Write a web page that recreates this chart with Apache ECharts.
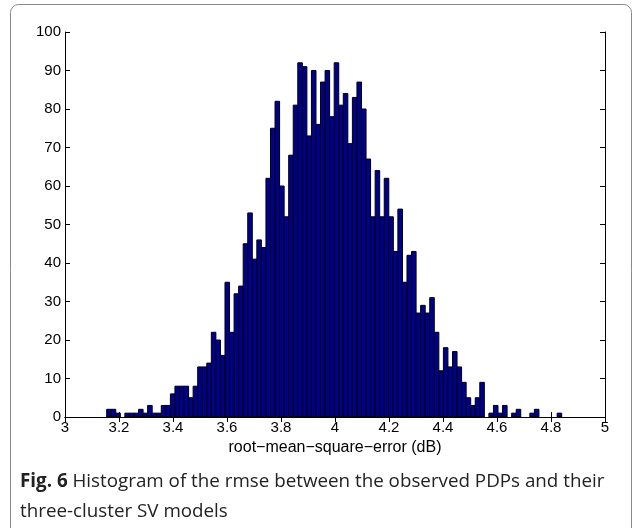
<!DOCTYPE html>
<html>
<head>
<meta charset="utf-8">
<script src="https://cdn.jsdelivr.net/npm/echarts@6/dist/echarts.min.js"></script>
<style>html,body{margin:0;padding:0;background:#fff;}#chart{width:633px;height:528px;}</style>
</head>
<body>
<div id="chart"></div>
<script>
// Histogram: 100 equal bins between the data minimum and maximum
var binMin = 3.1544;
var binMax = 4.8396;
var counts = [
  2, 2, 1, 0, 1, 1, 1, 2, 1, 3,
  1, 1, 3, 3, 6, 8, 8, 8, 5, 8,
  13, 13, 14, 22, 20, 16, 35, 22, 32, 34,
  45, 53, 41, 46, 44, 62, 75, 82, 60, 52,
  68, 81, 92, 91, 73, 90, 76, 87, 90, 78,
  92, 81, 84, 71, 83, 87, 80, 67, 52, 64,
  52, 62, 52, 43, 54, 35, 42, 43, 27, 29,
  27, 31, 22, 12, 18, 13, 17, 13, 9, 5,
  3, 5, 9, 0, 1, 3, 1, 3, 0, 1,
  2, 0, 0, 1, 2, 0, 0, 0, 0, 1
];
var xTickLabels = ['3','3.2','3.4','3.6','3.8','4','4.2','4.4','4.6','4.8','5'];
var yTickLabels = ['0','10','20','30','40','50','60','70','80','90','100'];
var xAxisTitle = 'root\u2212mean\u2212square\u2212error (dB)';
var captionBold = 'Fig. 6';
var captionLine1 = ' Histogram of the rmse between the observed PDPs and their';
var captionLine2 = 'three-cluster SV models';

var binW = (binMax - binMin) / counts.length;
var histData = counts.map(function (c, i) {
  return [binMin + i * binW, binMin + (i + 1) * binW, c];
});

var chart = echarts.init(document.getElementById('chart'), null, {renderer: 'canvas'});
var axisFont = 'Liberation Sans, Arial, Helvetica, sans-serif';
var option = {
  animation: false,
  backgroundColor: '#fff',
  grid: {left: 65, right: 28, top: 32, bottom: 111, containLabel: false},
  xAxis: [{
    type: 'value', min: 3, max: 5, interval: 0.2, position: 'bottom',
    axisLine: {show: true, lineStyle: {color: '#000', width: 1}},
    axisTick: {show: true, inside: true, length: 5, lineStyle: {color: '#000'}},
    axisLabel: {color: '#000', fontFamily: axisFont, fontSize: 15, margin: 3,
      formatter: function (v) { return xTickLabels[Math.round((v - 3) / 0.2)]; }},
    splitLine: {show: false},
    name: xAxisTitle, nameLocation: 'middle', nameGap: 11,
    nameTextStyle: {color: '#000', fontFamily: axisFont, fontSize: 16, verticalAlign: 'top'}
  }, {
    type: 'value', min: 3, max: 5, interval: 0.2, position: 'top',
    axisLine: {show: true, lineStyle: {color: '#000', width: 1}},
    axisTick: {show: true, inside: true, length: 5, lineStyle: {color: '#000'}},
    axisLabel: {show: false}, splitLine: {show: false}
  }],
  yAxis: [{
    type: 'value', min: 0, max: 100, interval: 10, position: 'left',
    axisLine: {show: true, lineStyle: {color: '#000', width: 1}},
    axisTick: {show: true, inside: true, length: 5, lineStyle: {color: '#000'}},
    axisLabel: {color: '#000', fontFamily: axisFont, fontSize: 15, margin: 4,
      formatter: function (v) { return yTickLabels[Math.round(v / 10)]; }},
    splitLine: {show: false}
  }, {
    type: 'value', min: 0, max: 100, interval: 10, position: 'right',
    axisLine: {show: true, lineStyle: {color: '#000', width: 1}},
    axisTick: {show: true, inside: true, length: 5, lineStyle: {color: '#000'}},
    axisLabel: {show: false}, splitLine: {show: false}
  }],
  series: [{
    type: 'custom',
    xAxisIndex: 0, yAxisIndex: 0,
    data: histData,
    encode: {x: [0, 1], y: 2},
    renderItem: function (params, api) {
      var c = api.value(2);
      if (!c) return null;
      var p0 = api.coord([api.value(0), c]);
      var p1 = api.coord([api.value(1), 0]);
      return {
        type: 'rect',
        shape: {x: p0[0], y: p0[1], width: p1[0] - p0[0], height: p1[1] - p0[1]},
        style: {fill: '#00008f', stroke: '#000', lineWidth: 1}
      };
    }
  }],
  graphic: [{
    type: 'rect', z: -10,
    shape: {x: 10.5, y: 4.5, width: 621, height: 540, r: 8},
    style: {fill: 'none', stroke: '#8a8a8a', lineWidth: 1}
  }, {
    type: 'text', left: 20, top: 472,
    style: {
      text: '{b|' + captionBold + '}{n|' + captionLine1 + '}\n{n|' + captionLine2 + '}',
      rich: {
        b: {fontFamily: 'Open Sans, sans-serif', fontWeight: 'bold', fontSize: 18.8, fill: '#222', lineHeight: 30},
        n: {fontFamily: 'Open Sans, sans-serif', fontSize: 18.8, fill: '#222', lineHeight: 30}
      }
    }
  }]
};
chart.setOption(option);
</script>
</body>
</html>
